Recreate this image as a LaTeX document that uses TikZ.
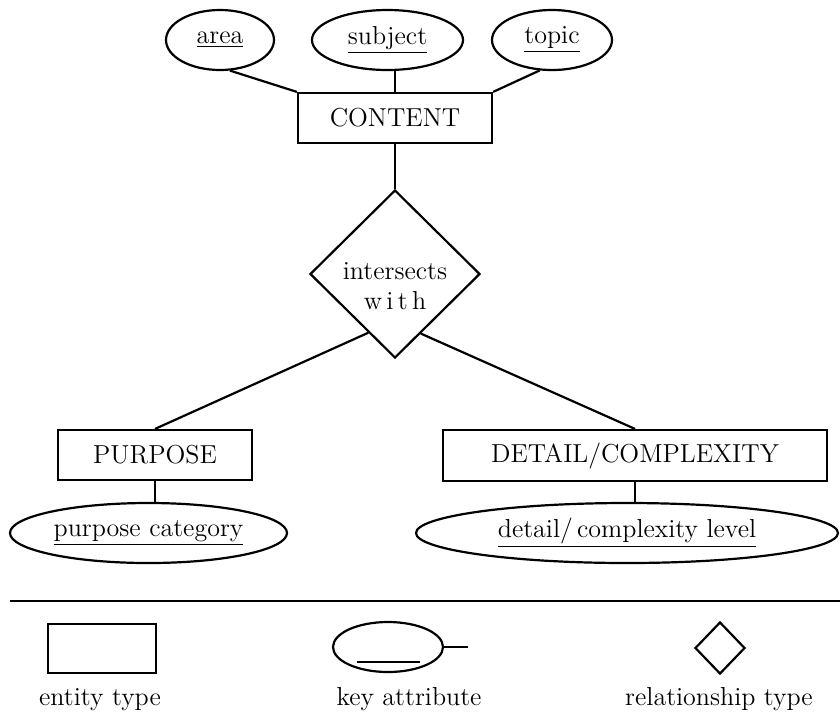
\documentclass[tikz,border=0pt]{standalone}
\usetikzlibrary{shapes.geometric,calc}
\begin{document}
\begin{tikzpicture}[x=0.5pt,y=-0.5pt,
  line width=1.1pt,
  every node/.style={font=\fontsize{13}{15}\selectfont},
  entity/.style={draw,rectangle,inner sep=0pt},
  attr/.style={draw,ellipse,inner sep=0pt},
  rel/.style={draw,diamond,inner sep=0pt,aspect=1}]
\useasboundingbox (0,0) rectangle (840,719);

% attributes of CONTENT
\node[attr,minimum width=54pt,minimum height=30pt] (area) at (220,40) {\underline{area}};
\node[attr,minimum width=75.5pt,minimum height=30pt] (subject) at (387.5,40) {\underline{subject}};
\node[attr,minimum width=60pt,minimum height=30pt] (topic) at (552,40) {\underline{topic}};

% entity types
\node[entity,minimum width=97pt,minimum height=25pt] (content) at (395,118) {CONTENT};
\node[entity,minimum width=97pt,minimum height=25pt] (purpose) at (155,455) {PURPOSE};
\node[entity,minimum width=192pt,minimum height=25.5pt] (detail) at (635,455.5) {DETAIL/COMPLEXITY};

% relationship type
\node[rel,minimum width=85pt,minimum height=84pt] (rel) at (395,274) {};
\node[align=center] (reltext) at (395,286) {intersects\\w\,i\,t\,h};

% key attributes of PURPOSE and DETAIL/COMPLEXITY
\node[attr,minimum width=138.5pt,minimum height=30pt] (pcat) at (148.5,533) {\underline{purpose category}};
\node[attr,minimum width=211pt,minimum height=30pt] (dlevel) at (627,533) {\underline{detail/\,complexity level}};

% connectors
\draw (area.-72) -- (content.north west);
\draw (subject.south -| content.north) -- (content.north);
\draw (topic.-112) -- (content.north east);
\draw (content.south) -- (rel.north);
\draw ($(rel.west)!0.69!(rel.south)$) -- (purpose.north);
\draw ($(rel.south)!0.3!(rel.east)$) -- (detail.north);
\draw (purpose.south) -- (purpose.south |- pcat.north);
\draw (detail.south) -- (detail.south |- dlevel.north);

% legend
\coordinate (ruleL) at (10,601);
\coordinate (ruleR) at (840,601);
\draw (ruleL) -- (ruleR);

\node[entity,minimum width=54pt,minimum height=24.5pt] (lgent) at (102,648.5) {};
\node[attr,minimum width=55pt,minimum height=25pt] (lgkey) at (388,647) {};
\coordinate (ulA) at (357,662);
\coordinate (ulB) at (420,662);
\draw (ulA) -- (ulB);
\coordinate (keytail) at (468,647);
\draw (lgkey.east) -- (keytail);
\node[rel,minimum width=25pt,minimum height=26pt] (lgrel) at (720,648) {};

\node[anchor=base] (lbent) at (100,705) {entity type};
\node[anchor=base] (lbkey) at (409,705) {key attribute};
\node[anchor=base] (lbrel) at (719,705) {relationship type};
\end{tikzpicture}
\end{document}
